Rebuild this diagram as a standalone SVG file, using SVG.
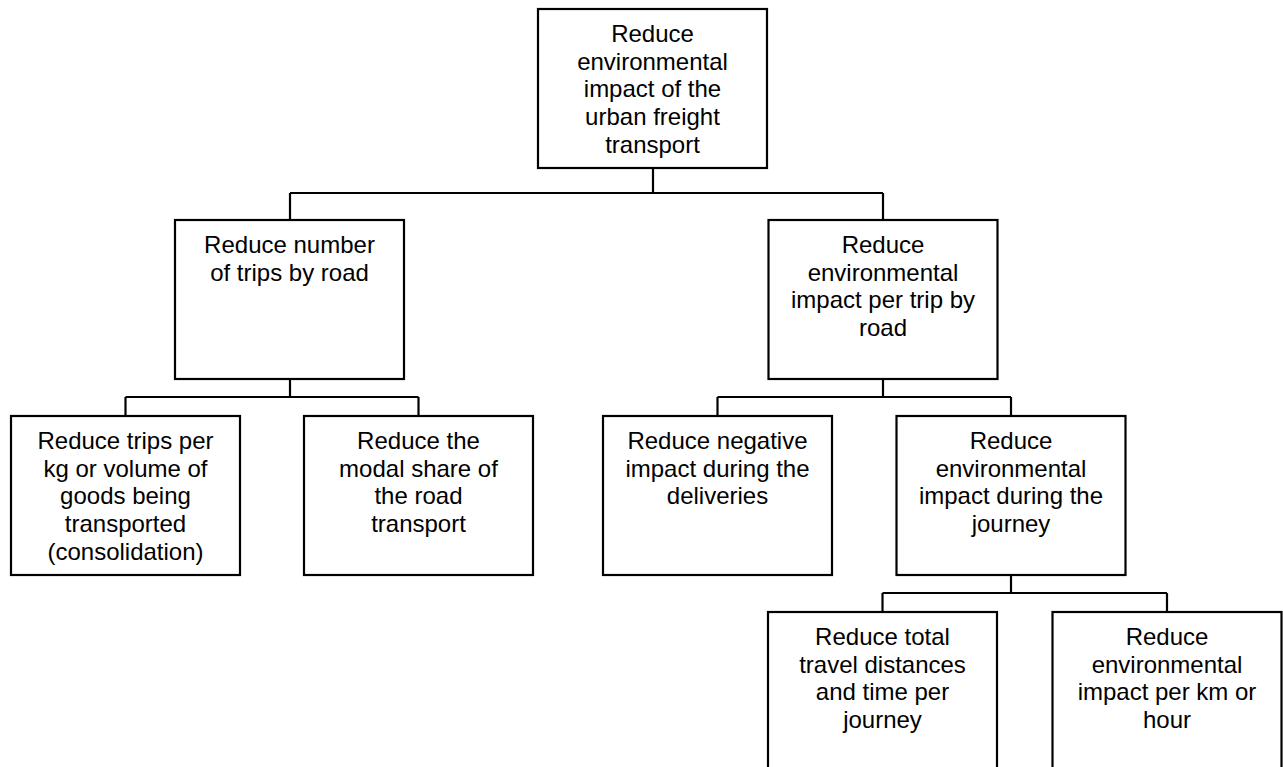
<svg xmlns="http://www.w3.org/2000/svg" width="1283" height="767" viewBox="0 0 1283 767">
<style>
.box{fill:#fff;stroke:#000;stroke-width:2.2}
.t{font-family:"Liberation Sans",Arial,sans-serif;font-size:24px;fill:#000;text-anchor:middle}
.c{fill:none;stroke:#000;stroke-width:2.2}
</style>
<rect width="1283" height="767" fill="#fff"/>
<g id="connectors">
<path class="c" d="M653 168V193M290 193H883M290 193V220M883 193V220"/>
<path class="c" d="M290 379V397M125.5 397H418.5M125.5 397V416M418.5 397V416"/>
<path class="c" d="M883 379V397M717.5 397H1011M717.5 397V416M1011 397V416"/>
<path class="c" d="M1011 575V593M882.5 593H1167M882.5 593V612M1167 593V612"/>
</g>
<g id="n-root">
<rect class="box" x="538" y="9" width="229" height="159"/>
<text class="t"><tspan x="652.5" y="42">Reduce</tspan><tspan x="652.5" y="69.7">environmental</tspan><tspan x="652.5" y="97.4">impact of the</tspan><tspan x="652.5" y="125.1">urban freight</tspan><tspan x="652.5" y="152.8">transport</tspan></text>
</g>
<g id="n-trips">
<rect class="box" x="175" y="220" width="229" height="159"/>
<text class="t"><tspan x="289.5" y="253">Reduce number</tspan><tspan x="289.5" y="280.7">of trips by road</tspan></text>
</g>
<g id="n-pertrip">
<rect class="box" x="768.5" y="220" width="229" height="159"/>
<text class="t"><tspan x="883" y="253">Reduce</tspan><tspan x="883" y="280.7">environmental</tspan><tspan x="883" y="308.4">impact per trip by</tspan><tspan x="883" y="336.1">road</tspan></text>
</g>
<g id="n-consolidation">
<rect class="box" x="11" y="416" width="229" height="159"/>
<text class="t"><tspan x="125.5" y="449">Reduce trips per</tspan><tspan x="125.5" y="476.7">kg or volume of</tspan><tspan x="125.5" y="504.4">goods being</tspan><tspan x="125.5" y="532.1">transported</tspan><tspan x="125.5" y="559.8">(consolidation)</tspan></text>
</g>
<g id="n-modal">
<rect class="box" x="304" y="416" width="229" height="159"/>
<text class="t"><tspan x="418.5" y="449">Reduce the</tspan><tspan x="418.5" y="476.7">modal share of</tspan><tspan x="418.5" y="504.4">the road</tspan><tspan x="418.5" y="532.1">transport</tspan></text>
</g>
<g id="n-deliveries">
<rect class="box" x="603" y="416" width="229" height="159"/>
<text class="t"><tspan x="717.5" y="449">Reduce negative</tspan><tspan x="717.5" y="476.7">impact during the</tspan><tspan x="717.5" y="504.4">deliveries</tspan></text>
</g>
<g id="n-journey">
<rect class="box" x="896.5" y="416" width="229" height="159"/>
<text class="t"><tspan x="1011" y="449">Reduce</tspan><tspan x="1011" y="476.7">environmental</tspan><tspan x="1011" y="504.4">impact during the</tspan><tspan x="1011" y="532.1">journey</tspan></text>
</g>
<g id="n-distance">
<rect class="box" x="768" y="612" width="229" height="165"/>
<text class="t"><tspan x="882.5" y="645">Reduce total</tspan><tspan x="882.5" y="672.7">travel distances</tspan><tspan x="882.5" y="700.4">and time per</tspan><tspan x="882.5" y="728.1">journey</tspan></text>
</g>
<g id="n-perkm">
<rect class="box" x="1052.5" y="612" width="229" height="165"/>
<text class="t"><tspan x="1167" y="645">Reduce</tspan><tspan x="1167" y="672.7">environmental</tspan><tspan x="1167" y="700.4">impact per km or</tspan><tspan x="1167" y="728.1">hour</tspan></text>
</g>
</svg>
